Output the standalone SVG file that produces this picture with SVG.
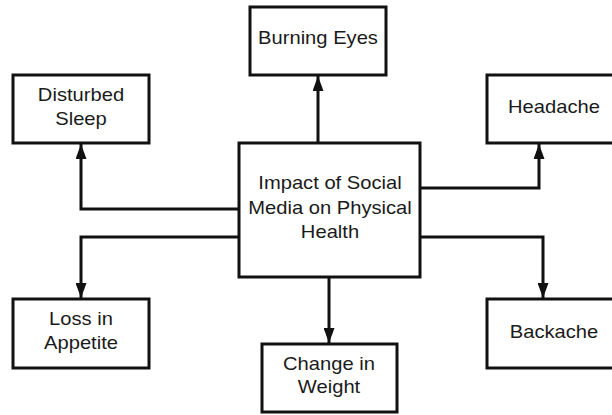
<svg xmlns="http://www.w3.org/2000/svg" width="612" height="415" viewBox="0 0 612 415">
<style>
.box{fill:#fff;stroke:#111;stroke-width:3}
.lbl{font-family:"Liberation Sans",Arial,sans-serif;font-size:18px;fill:#1a1a1a;text-anchor:middle}
.con{fill:none;stroke:#111;stroke-width:3}
</style>
<defs>
<marker id="arr" markerWidth="15" markerHeight="11" refX="15" refY="5.5" viewBox="0 0 15 11" markerUnits="userSpaceOnUse" orient="auto">
<path d="M0,0 L15,5.5 L0,11 Z" fill="#111"/>
</marker>
</defs>
<rect width="612" height="415" fill="#fff"/>
<g id="connectors">
<path class="con" d="M318,143 V76" marker-end="url(#arr)"/>
<path class="con" d="M239,209 H81 V144" marker-end="url(#arr)"/>
<path class="con" d="M420,188 H539 V144" marker-end="url(#arr)"/>
<path class="con" d="M239,237 H81 V298" marker-end="url(#arr)"/>
<path class="con" d="M420,237 H543 V298" marker-end="url(#arr)"/>
<path class="con" d="M329,277 V343" marker-end="url(#arr)"/>
</g>
<g id="center">
<rect class="box" x="239" y="143" width="181" height="134"/>
<text class="lbl" transform="translate(330,189) scale(1.12,1)">Impact of Social</text>
<text class="lbl" transform="translate(330,214) scale(1.12,1)">Media on Physical</text>
<text class="lbl" transform="translate(330,238) scale(1.12,1)">Health</text>
</g>
<g id="burning-eyes">
<rect class="box" x="250" y="7" width="136" height="68"/>
<text class="lbl" transform="translate(318,44) scale(1.12,1)">Burning Eyes</text>
</g>
<g id="disturbed-sleep">
<rect class="box" x="13" y="75" width="136" height="68"/>
<text class="lbl" transform="translate(81,101) scale(1.12,1)">Disturbed</text>
<text class="lbl" transform="translate(81,125) scale(1.12,1)">Sleep</text>
</g>
<g id="headache">
<rect class="box" x="487" y="75" width="130" height="68"/>
<text class="lbl" transform="translate(554,113) scale(1.12,1)">Headache</text>
</g>
<g id="loss-in-appetite">
<rect class="box" x="13" y="299" width="136" height="69"/>
<text class="lbl" transform="translate(81,325) scale(1.12,1)">Loss in</text>
<text class="lbl" transform="translate(81,349) scale(1.12,1)">Appetite</text>
</g>
<g id="change-in-weight">
<rect class="box" x="262" y="344" width="135" height="68"/>
<text class="lbl" transform="translate(329,370) scale(1.12,1)">Change in</text>
<text class="lbl" transform="translate(329,393) scale(1.12,1)">Weight</text>
</g>
<g id="backache">
<rect class="box" x="487" y="299" width="130" height="69"/>
<text class="lbl" transform="translate(554,338) scale(1.12,1)">Backache</text>
</g>
</svg>
